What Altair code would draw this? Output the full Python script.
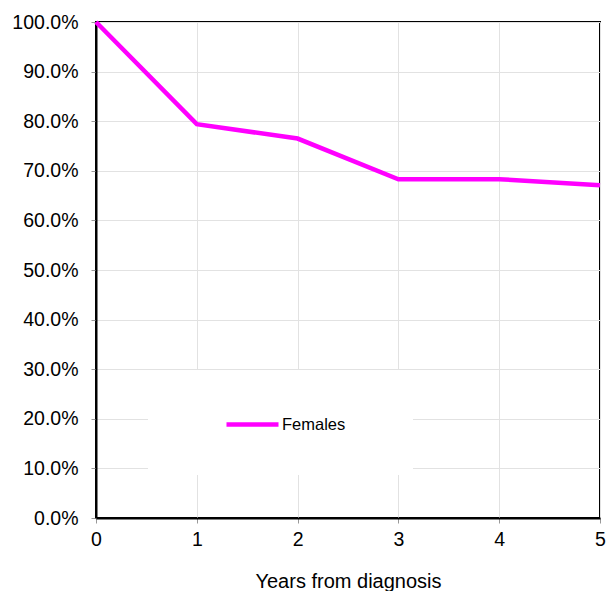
import altair as alt
import pandas as pd

# Relative survival by years since diagnosis
years = [0, 1, 2, 3, 4, 5]
survival = [1.000, 0.794, 0.765, 0.683, 0.683, 0.671]
series = ["Females"] * len(years)

y_ticks = [i / 10 for i in range(11)]
x_ticks = [0, 1, 2, 3, 4, 5]

df = pd.DataFrame({"year": years, "survival": survival, "group": series})

FONT = "Liberation Sans"

# white backdrop behind the legend, hiding the grid there
backdrop = alt.Chart(pd.DataFrame({"k": [0]})).mark_rect(
    color="white"
).encode(
    x=alt.value(52), x2=alt.value(317),
    y=alt.value(348), y2=alt.value(453),
)

line = alt.Chart(df).mark_line(strokeWidth=4.5, strokeJoin="miter").encode(
    x=alt.X(
        "year:Q",
        scale=alt.Scale(domain=[0, 5], nice=False),
        axis=alt.Axis(
            values=x_ticks, format="d", title="Years from diagnosis",
            labelPadding=7, titleY=69, titleBaseline="alphabetic",
            titleFontSize=20, titleFontWeight="normal",
        ),
    ),
    y=alt.Y(
        "survival:Q",
        scale=alt.Scale(domain=[0, 1], nice=False),
        axis=alt.Axis(values=y_ticks, format=".1%", title=None, labelPadding=13),
    ),
    color=alt.Color(
        "group:N",
        scale=alt.Scale(domain=["Females"], range=["#FF00FF"]),
        legend=alt.Legend(
            title=None, orient="none", legendX=128, legendY=374,
            symbolType="stroke", symbolSize=2704, symbolStrokeWidth=4.5,
            labelFontSize=16.5, labelOffset=1, padding=0, labelFont=FONT,
            labelColor="black",
        ),
    ),
)

chart = alt.layer(backdrop, line).properties(
    width=504, height=496,
    autosize=alt.AutoSizeParams(type="none"),
    padding={"left": 96, "top": 22, "right": 6, "bottom": 73},
    background="white",
).configure_view(
    stroke="black", strokeWidth=2,
).configure_axis(
    labelFont=FONT, titleFont=FONT, labelFontSize=19.5,
    labelColor="black", titleColor="black", labelFlush=False,
    domainColor="black", domainWidth=2,
    tickColor="#999999", tickSize=5, tickWidth=1,
    gridColor="#e2e2e2", gridWidth=1,
)

chart.save("out.html", embed_options={"renderer": "svg", "actions": False})
